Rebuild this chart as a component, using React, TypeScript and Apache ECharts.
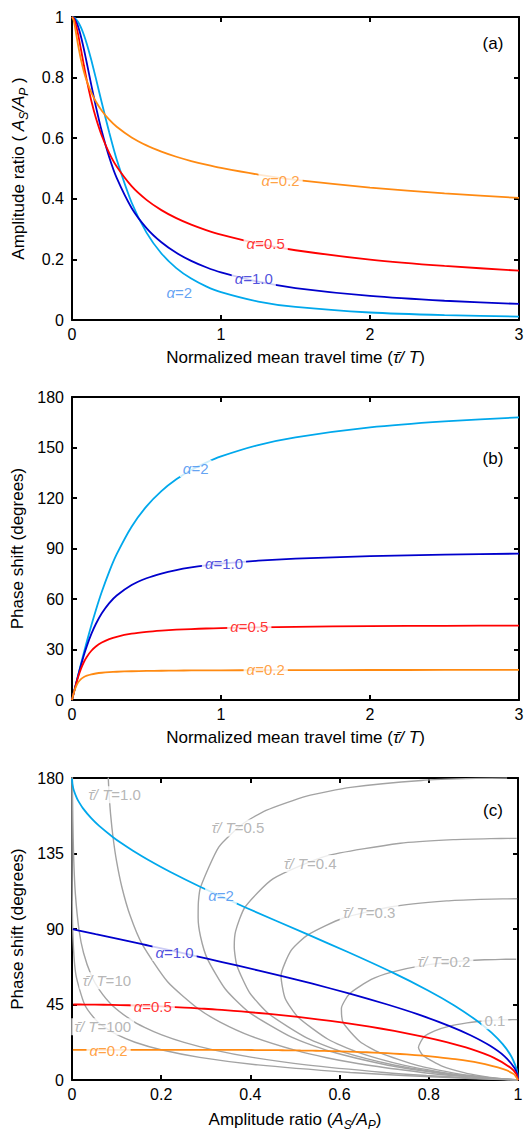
import React, { useEffect, useRef } from "react";
import * as echarts from "echarts";

const FONT = "'Liberation Sans', Arial, Helvetica, sans-serif";

// ---------- panels (a) and (b): normalized mean travel time τ̄/T ----------
const travelTime = [0, 0.01, 0.02, 0.04, 0.06, 0.08, 0.1, 0.13, 0.16, 0.2, 0.25, 0.3, 0.4, 0.5, 0.6, 0.7, 0.8, 0.9, 1.0, 1.25, 1.5, 2.0, 2.5, 3.0];

const ampAlpha02 = [1, 0.9906, 0.9673, 0.9096, 0.8594, 0.8195, 0.7877, 0.7503, 0.7212, 0.6907, 0.6611, 0.6378, 0.6024, 0.5762, 0.5557, 0.5388, 0.5247, 0.5125, 0.5018, 0.4799, 0.4627, 0.4369, 0.4178, 0.4028];
const ampAlpha05 = [1, 0.9961, 0.9848, 0.9452, 0.8936, 0.8398, 0.7891, 0.7225, 0.6673, 0.608, 0.5507, 0.5064, 0.4417, 0.3965, 0.3626, 0.3361, 0.3146, 0.2968, 0.2817, 0.2521, 0.2302, 0.1994, 0.1784, 0.1628];
const ampAlpha1 = [1, 0.998, 0.9922, 0.9699, 0.9357, 0.8935, 0.8467, 0.7745, 0.7052, 0.6227, 0.537, 0.4687, 0.3697, 0.3033, 0.2564, 0.2217, 0.1951, 0.1741, 0.1572, 0.1263, 0.1055, 0.0793, 0.0635, 0.053];
const ampAlpha2 = [1, 0.999, 0.9961, 0.9845, 0.9657, 0.9406, 0.9102, 0.8571, 0.7983, 0.717, 0.6185, 0.5296, 0.3877, 0.2884, 0.2196, 0.1714, 0.1367, 0.1112, 0.092, 0.0609, 0.0431, 0.0247, 0.016, 0.0111];

const phaseAlpha02 = [0, 3.49, 6.43, 10.3, 12.41, 13.66, 14.47, 15.25, 15.75, 16.19, 16.55, 16.79, 17.09, 17.27, 17.39, 17.48, 17.54, 17.59, 17.64, 17.71, 17.76, 17.82, 17.85, 17.88];
const phaseAlpha05 = [0, 3.58, 7.05, 13.34, 18.51, 22.58, 25.74, 29.26, 31.78, 34.15, 36.17, 37.57, 39.37, 40.48, 41.22, 41.76, 42.16, 42.47, 42.72, 43.18, 43.48, 43.86, 44.09, 44.24];
const phaseAlpha1 = [0, 3.6, 7.16, 14.11, 20.66, 26.69, 32.14, 39.24, 45.15, 51.49, 57.52, 62.05, 68.3, 72.34, 75.14, 77.19, 78.75, 79.97, 80.96, 82.74, 83.94, 85.45, 86.36, 86.96];
const phaseAlpha2 = [0, 3.6, 7.19, 14.32, 21.35, 28.22, 34.88, 44.44, 53.38, 64.28, 76.29, 86.61, 102.98, 115.04, 124.1, 131.09, 136.61, 141.04, 144.69, 151.43, 156.04, 161.91, 165.49, 167.89];

// continuation of the α curves beyond τ̄/T = 3 (panel c only, τ̄/T = 5, 10, 30, 100, ...)
const tailAmpAlpha02 = [0.3637, 0.3167, 0.2542, 0.1998, 0.1261, 0.0796, 0.0317, 0.008, 0.002];
const tailPhaseAlpha02 = [17.93, 17.96, 17.99, 18.0, 18.0, 18.0, 18.0, 18.0, 18.0];
const tailAmpAlpha05 = [0.1261, 0.0892, 0.0515, 0.0282, 0.0089, 0.0028];
const tailPhaseAlpha05 = [44.54, 44.77, 44.92, 44.98, 45.0, 45.0];
const tailAmpAlpha1 = [0.0318, 0.0159, 0.0053, 0.0016];
const tailPhaseAlpha1 = [88.18, 89.09, 89.7, 89.91];
const tailAmpAlpha2 = [0.004, 0.001, 0.0001, 0.00001];
const tailPhaseAlpha2 = [172.71, 176.35, 178.78, 179.64];

// ---------- panel (c): curves of constant τ̄/T (α varies along each) ----------
const isoAmp01 = [1, 0.9594, 0.9128, 0.881, 0.8311, 0.7877, 0.7768, 0.7891, 0.8132, 0.8467, 0.8858, 0.9102, 0.9376, 0.9616, 0.9805, 0.9934, 0.998];
const isoPhase01 = [0, 0.89, 2.62, 4.27, 8.1, 14.47, 19.34, 25.74, 29.34, 32.14, 34.08, 34.88, 35.49, 35.81, 35.95, 36.0, 36.0];
const isoAmp02 = [1, 0.9528, 0.894, 0.8511, 0.7762, 0.6907, 0.6453, 0.608, 0.604, 0.6227, 0.6711, 0.717, 0.7847, 0.858, 0.9247, 0.9614, 0.9843, 0.9961];
const isoPhase02 = [0, 0.9, 2.66, 4.39, 8.55, 16.19, 22.97, 34.15, 42.62, 51.49, 59.93, 64.28, 68.17, 70.54, 71.63, 71.91, 71.99, 72.0];
const isoAmp03 = [1, 0.949, 0.8832, 0.834, 0.7455, 0.6378, 0.574, 0.5064, 0.4778, 0.4687, 0.4914, 0.5296, 0.6071, 0.7173, 0.8398, 0.9154, 0.9651, 0.9912, 0.9982];
const isoPhase03 = [0, 0.9, 2.67, 4.42, 8.7, 16.79, 24.29, 37.57, 48.74, 62.05, 77.23, 86.61, 96.43, 103.28, 106.75, 107.68, 107.95, 108.0, 108.0];
const isoAmp04 = [1, 0.9462, 0.8756, 0.8221, 0.7243, 0.6024, 0.5274, 0.4417, 0.3981, 0.3697, 0.3638, 0.3669, 0.3877, 0.4504, 0.5694, 0.7362, 0.855, 0.9389, 0.9843, 0.9969];
const isoPhase04 = [0, 0.9, 2.68, 4.44, 8.77, 17.09, 24.96, 39.37, 52.11, 68.3, 79.45, 88.75, 102.98, 119.87, 133.45, 141.08, 143.25, 143.88, 143.99, 144.0];
const isoAmp05 = [1, 0.9441, 0.8698, 0.813, 0.7084, 0.5762, 0.4936, 0.3965, 0.3437, 0.3033, 0.2883, 0.2828, 0.2835, 0.2884, 0.3294, 0.3825, 0.4352, 0.5261, 0.6246, 0.7837, 0.9062, 0.9756];
const isoPhase05 = [0, 0.9, 2.68, 4.45, 8.82, 17.27, 25.36, 40.48, 54.21, 72.34, 85.38, 96.72, 106.54, 115.04, 138.96, 152.58, 160.71, 169.19, 174.41, 178.55, 179.77, 179.98];
const isoAmp1 = [1, 0.9376, 0.8519, 0.7853, 0.661, 0.571, 0.5018, 0.4014, 0.3321, 0.2817, 0.2143, 0.1572, 0.1297, 0.1119, 0.1, 0.092, 0.0866, 0.0831, 0.0813];
const isoPhase1 = [0, 0.9, 2.69, 4.48, 8.91, 13.29, 17.64, 26.18, 34.54, 42.73, 58.55, 80.96, 98.44, 114.86, 130.26, 144.69, 158.17, 170.76, 180.21];
const isoAmp10 = [1, 0.9163, 0.795, 0.6999, 0.525, 0.4043, 0.3166, 0.2512, 0.2012, 0.1626, 0.1323, 0.0892, 0.0614, 0.0429, 0.0258, 0.0159, 0.0075, 0.0037, 0.0019, 0.001, 0.0008];
const isoPhase10 = [0, 0.9, 2.7, 4.5, 8.99, 13.48, 17.96, 22.44, 26.92, 31.39, 35.85, 44.77, 53.67, 62.55, 75.84, 89.09, 111.08, 132.95, 154.71, 176.35, 184.98];
const isoAmp100 = [1, 0.8954, 0.7419, 0.6238, 0.417, 0.2862, 0.1998, 0.1412, 0.1009, 0.0726, 0.0527, 0.0282, 0.0086, 0.0016, 0.0001, 0.00001, 0];
const isoPhase100 = [0, 0.9, 2.7, 4.5, 9.0, 13.5, 18.0, 22.49, 26.99, 31.49, 35.99, 44.99, 62.96, 89.91, 134.79, 179.82, 188];

// ---------- styling ----------
const C02 = "#ff8a12";
const C05 = "#ff0000";
const C1 = "#0000cc";
const C2 = "#00a8ec";
const C2LABEL = "#3b8bf0";
const C1LABEL = "#2424d4";
const GRAY = "#a3a3a3";

const alphaLabelsA = [
  { t: "0.2", x: 1.4, y: 0.462, c: C02 },
  { t: "0.5", x: 1.3, y: 0.252, c: C05 },
  { t: "1.0", x: 1.22, y: 0.136, c: C1LABEL },
  { t: "2", x: 0.72, y: 0.09, c: C2LABEL },
];
const alphaLabelsB = [
  { t: "2", x: 0.83, y: 137.5, c: C2LABEL },
  { t: "1.0", x: 1.02, y: 81.1, c: C1LABEL },
  { t: "0.5", x: 1.19, y: 43.5, c: C05 },
  { t: "0.2", x: 1.3, y: 18.2, c: C02 },
];
const alphaLabelsC = [
  { t: "2", x: 0.334, y: 109.7, c: C2LABEL },
  { t: "1.0", x: 0.23, y: 76, c: C1LABEL },
  { t: "0.5", x: 0.181, y: 43.7, c: C05 },
  { t: "0.2", x: 0.082, y: 17.5, c: C02 },
];
const isoLabelsC = [
  { t: "1.0", x: 0.0955, y: 170 },
  { t: "0.5", x: 0.372, y: 150.2 },
  { t: "0.4", x: 0.534, y: 129 },
  { t: "0.3", x: 0.666, y: 99.6 },
  { t: "0.2", x: 0.834, y: 70.4 },
  { t: "", x: 0.948, y: 35.3 },
  { t: "10", x: 0.078, y: 59.1 },
  { t: "100", x: 0.069, y: 31.7 },
];

const zip = (xs: number[], ys: number[]) => xs.map((x, i) => [x, ys[i]]);

function lineSeries(data: number[][], color: string, idx: number, width: number, z: number) {
  return {
    type: "line",
    data,
    xAxisIndex: idx,
    yAxisIndex: idx,
    showSymbol: false,
    symbol: "none",
    smooth: 0.2,
    clip: true,
    silent: true,
    z,
    lineStyle: { color, width },
    itemStyle: { color },
  };
}

const richBase = {
  g: { fontStyle: "italic", fontFamily: FONT, fontSize: 15 },
  n: { fontFamily: FONT, fontSize: 15 },
};

function labelSeries(idx: number, items: any[]) {
  return {
    type: "scatter",
    xAxisIndex: idx,
    yAxisIndex: idx,
    symbolSize: 0,
    silent: true,
    z: 10,
    itemStyle: { color: "transparent" },
    data: items.map((it) => ({
      value: [it.x, it.y],
      label: {
        show: true,
        position: "inside",
        formatter: it.f,
        color: it.c,
        backgroundColor: "#ffffff",
        padding: [1, 3],
        fontSize: 15,
        fontFamily: FONT,
        rich: richBase,
      },
    })),
  };
}

const nameRich = {
  t: { fontFamily: FONT, fontSize: 17, color: "#000" },
  i: { fontFamily: FONT, fontSize: 17, fontStyle: "italic", color: "#000" },
  s: { fontFamily: FONT, fontSize: 12, fontStyle: "italic", color: "#000", padding: [12, 0, 0, 0] },
};

function axes(grid: number, dim: "x" | "y", min: number, max: number, interval: number, name: string, nameGap: number) {
  const common = {
    gridIndex: grid,
    type: "value",
    min,
    max,
    interval,
    splitLine: { show: false },
    axisLine: { show: true, onZero: false, lineStyle: { color: "#000", width: 2 } },
    axisTick: { show: true, inside: true, length: 5, lineStyle: { color: "#000", width: 2 } },
  };
  const main = {
    ...common,
    position: dim === "x" ? "bottom" : "left",
    name,
    nameLocation: "middle",
    nameGap,
    nameTextStyle: { fontFamily: FONT, fontSize: 17, color: "#000", rich: nameRich },
    axisLabel: { show: true, color: "#000", fontFamily: FONT, fontSize: 16, margin: dim === "x" ? 6 : 8 },
  };
  const mirror = {
    ...common,
    position: dim === "x" ? "top" : "right",
    axisLabel: { show: false },
  };
  return [main, mirror];
}

export default function App() {
  const ref = useRef<HTMLDivElement>(null);

  useEffect(() => {
    if (!ref.current) return;
    const chart = echarts.init(ref.current, undefined, { renderer: "svg" });

    const timeName = "{t|Normalized mean travel time (}{i|τ̄/ T}{t|)}";
    const ampName = "{t|Amplitude ratio (}{i|A}{s|S}{i|/A}{s|P}{t|)}";
    const ampNameA = "{t|Amplitude ratio ( }{i|A}{s|S}{i|/A}{s|P}{t| )}";
    const phaseName = "{t|Phase shift (degrees)}";

    const grids = [
      { left: 72, top: 17, width: 447, height: 303 },
      { left: 72, top: 397, width: 447, height: 303 },
      { left: 72, top: 778, width: 446, height: 302 },
    ];

    const xAxis = [
      ...axes(0, "x", 0, 3, 1, timeName, 29),
      ...axes(1, "x", 0, 3, 1, timeName, 29),
      ...axes(2, "x", 0, 1, 0.2, ampName, 27),
    ];
    const yAxis = [
      ...axes(0, "y", 0, 1, 0.2, ampNameA, 42),
      ...axes(1, "y", 0, 180, 30, phaseName, 42),
      ...axes(2, "y", 0, 180, 45, phaseName, 42),
    ];
    // axis index layout: 0 = panel a, 2 = panel b, 4 = panel c

    const amps = [ampAlpha02, ampAlpha05, ampAlpha1, ampAlpha2];
    const phases = [phaseAlpha02, phaseAlpha05, phaseAlpha1, phaseAlpha2];
    const tailsA = [tailAmpAlpha02, tailAmpAlpha05, tailAmpAlpha1, tailAmpAlpha2];
    const tailsP = [tailPhaseAlpha02, tailPhaseAlpha05, tailPhaseAlpha1, tailPhaseAlpha2];
    const colors = [C02, C05, C1, C2];

    const series: any[] = [];
    // gray constant-τ̄/T curves
    const isoA = [isoAmp01, isoAmp02, isoAmp03, isoAmp04, isoAmp05, isoAmp1, isoAmp10, isoAmp100];
    const isoP = [isoPhase01, isoPhase02, isoPhase03, isoPhase04, isoPhase05, isoPhase1, isoPhase10, isoPhase100];
    isoA.forEach((a, k) => series.push(lineSeries(zip(a, isoP[k]), GRAY, 4, 1.4, 1)));

    for (let k = 3; k >= 0; k--) {
      series.push(lineSeries(zip(travelTime, amps[k]), colors[k], 0, 1.8, 2));
      series.push(lineSeries(zip(travelTime, phases[k]), colors[k], 2, 1.8, 2));
      series.push(
        lineSeries(
          [...zip(amps[k], phases[k]), ...zip(tailsA[k], tailsP[k])],
          colors[k],
          4,
          1.8,
          2
        )
      );
    }

    const af = (l: any) => ({ ...l, f: "{g|α}{n|=" + l.t + "}" });
    series.push(labelSeries(0, alphaLabelsA.map(af)));
    series.push(labelSeries(2, alphaLabelsB.map(af)));
    series.push(
      labelSeries(4, [
        ...alphaLabelsC.map(af),
        ...isoLabelsC.map((l) => ({
          ...l,
          c: GRAY,
          f: l.t === "" ? "{n|0.1}" : "{g|τ̄/ T}{n|=" + l.t + "}",
        })),
      ])
    );

    const panelLabel = (text: string, y: number) => ({
      type: "text",
      x: 493,
      y,
      z: 20,
      style: {
        text,
        fill: "#000",
        fontFamily: FONT,
        fontSize: 17,
        align: "center",
        verticalAlign: "middle",
      },
    });

    chart.setOption({
      animation: false,
      backgroundColor: "#ffffff",
      grid: grids,
      xAxis,
      yAxis,
      series,
      graphic: [panelLabel("(a)", 43), panelLabel("(b)", 458), panelLabel("(c)", 810)],
    });

    return () => chart.dispose();
  }, []);

  return (
    <div
      ref={ref}
      style={{ position: "absolute", left: 0, top: 0, width: 529, height: 1134, background: "#fff" }}
    />
  );
}
